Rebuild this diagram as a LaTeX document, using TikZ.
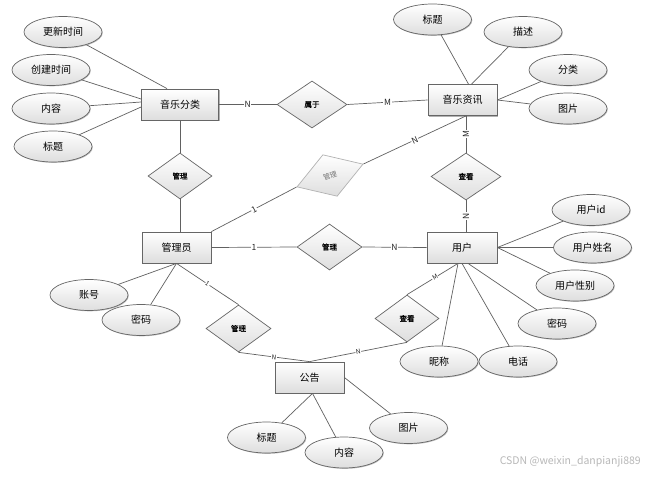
\documentclass[tikz,border=0pt]{standalone}
\usepackage{fontspec}
\setmainfont{Noto Sans CJK SC}[AutoFakeBold=1.2]
\usetikzlibrary{shapes.geometric,shadows}
\begin{document}
\begin{tikzpicture}[x=1pt,y=-1pt,
 line/.style={draw=black!62, line width=0.7pt},
 ent/.style={rectangle, draw=black!60, line width=0.8pt, top color=white, bottom color=black!13,
   minimum width=69pt, minimum height=31pt, inner sep=0pt, font=\fontsize{10}{12}\selectfont,
   drop shadow={shadow xshift=1.2pt, shadow yshift=-1.2pt, opacity=0.3, fill=black}},
 attr/.style={ellipse, draw=black!60, line width=0.7pt, top color=white, bottom color=black!13,
   minimum width=78pt, minimum height=31pt, inner sep=0pt, font=\fontsize{10}{12}\selectfont,
   drop shadow={shadow xshift=0.8pt, shadow yshift=-0.8pt, opacity=0.25, fill=black}},
 rel/.style={diamond, draw=black!60, line width=0.7pt, top color=white, bottom color=black!13,
   minimum width=66pt, minimum height=47pt, inner sep=0pt, font=\fontsize{7.5}{9}\selectfont\bfseries},
 lab/.style={fill=white, inner sep=0.6pt, font=\fontsize{8.5}{10}\selectfont, text=black!85},
 slab/.style={lab, font=\fontsize{6.5}{8}\selectfont}
]
\fill[white] (0,0) rectangle (655,476);
\useasboundingbox (0,0) rectangle (655,476);

% entities
\node[ent, minimum width=77pt] (fl) at (180,104.5) {音乐分类};
\node[ent] (mi) at (462.5,100) {音乐资讯};
\node[ent] (gl) at (176.5,247.5) {管理员};
\node[ent, minimum width=70pt] (yh) at (462,247.5) {用户};
\node[ent] (gg) at (309.5,377.5) {公告};

% relationships
\node[rel, minimum width=70pt] (sy) at (312,104.5) {属于};
\node[rel, minimum width=64pt, minimum height=46pt] (r1) at (180,176) {管理};
\node[rel, minimum width=70pt] (ck1) at (466,176.5) {查看};
\node[rel, draw=black!30, text=black!55, rotate=19, minimum width=70pt, minimum height=44pt,
   font=\fontsize{7}{8}\selectfont] (r2) at (330,175.5) {管理};
\node[rel, minimum width=65pt, minimum height=46pt] (r3) at (329.5,247) {管理};
\node[rel, minimum width=64pt] (ck2) at (407,318.5) {查看};
\node[rel, minimum width=65pt] (r4) at (238.5,328.5) {管理};

% attributes
\node[attr] (a1) at (63,32) {更新时间};
\node[attr] (a2) at (51,70) {创建时间};
\node[attr] (a3) at (51,108.5) {内容};
\node[attr] (a4) at (53,146.5) {标题};
\node[attr] (b1) at (432.5,19.5) {标题};
\node[attr] (b2) at (523,32) {描述};
\node[attr] (b3) at (568,70) {分类};
\node[attr] (b4) at (568,108.5) {图片};
\node[attr] (c1) at (591,210) {用户id};
\node[attr] (c2) at (592.5,247.5) {用户姓名};
\node[attr] (c3) at (575,285.5) {用户性别};
\node[attr] (c4) at (557,323.5) {密码};
\node[attr] (c6) at (439,361.5) {昵称};
\node[attr] (c5) at (518,361.5) {电话};
\node[attr] (d1) at (89,295) {账号};
\node[attr] (d2) at (141,320) {密码};
\node[attr] (e1) at (266.5,437.5) {标题};
\node[attr] (e2) at (344,452.5) {内容};
\node[attr] (e3) at (408.5,428) {图片};

% attribute lines
\draw[line] (a1) -- ([xshift=-13pt]fl.north);
\draw[line] (a2) -- ([yshift=5.5pt]fl.west);
\draw[line] (a3) -- ([yshift=2.5pt]fl.west);
\draw[line] (a4) -- ([yshift=-2.5pt]fl.west);
\draw[line] (b1) -- ([xshift=6pt]mi.north);
\draw[line] (b2) -- ([xshift=9pt]mi.north);
\draw[line] (b3) -- (mi.east);
\draw[line] (b4) -- (mi.east);
\draw[line] (c1) -- (yh.east);
\draw[line] (c2) -- (yh.east);
\draw[line] (c3) -- (yh.east);
\draw[line] (c4) -- ([xshift=6pt]yh.south);
\draw[line] (c5) -- (yh.south);
\draw[line] (c6) -- ([xshift=-4pt]yh.south);
\draw[line] (d1) -- (gl.south);
\draw[line] (d2) -- (gl.south);
\draw[line] (e1) -- ([xshift=3pt]gg.south);
\draw[line] (e2) -- ([xshift=3pt]gg.south);
\draw[line] (e3) -- (gg.east);

% relationship lines
\draw[line] (fl.east) -- node[lab]{N} (sy.west);
\draw[line] (sy.east) -- node[lab]{M} (mi.west);
\draw[line] (fl.south) -- (r1.north);
\draw[line] (r1.south) -- ([xshift=3.5pt]gl.north);
\draw[line] ([xshift=3.5pt]mi.south) -- node[lab,rotate=90]{M} (ck1.north);
\draw[line] (ck1.south) -- node[lab,rotate=90]{N} ([xshift=4pt]yh.north);
\draw[line] (gl.north east) -- node[lab,sloped]{1} (r2.west);
\draw[line] (r2.east) -- node[lab,sloped]{N} ([xshift=3.5pt]mi.south);
\draw[line] (gl.east) -- node[lab]{1} (r3.west);
\draw[line] (r3.east) -- node[lab]{N} (yh.west);
\draw[line] (gl.south) -- node[slab,sloped]{1} (r4.north);
\draw[line] (r4.south) -- node[slab,sloped]{N} (gg.north);
\draw[line] ([xshift=-4pt]yh.south) -- node[slab,sloped,pos=0.45]{M} (ck2.north);
\draw[line] (ck2.south) -- node[slab,sloped]{N} (gg.north);

% watermark
\node[text=black!28, font=\fontsize{10.5}{12}\selectfont, anchor=east, inner sep=0pt] (wm) at (641,462) {CSDN @weixin\_danpianji889};
\end{tikzpicture}
\end{document}
